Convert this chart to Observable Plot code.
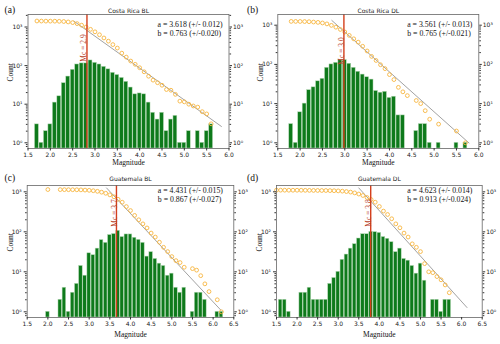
<!DOCTYPE html>
<html>
<head>
<meta charset="utf-8">
<script src="https://cdn.jsdelivr.net/npm/d3@7"></script>
<script src="https://cdn.jsdelivr.net/npm/@observablehq/plot@0.6"></script>
<style>
  html, body { margin: 0; padding: 0; background: #fff; }
  #fig { position: relative; width: 500px; height: 344px; overflow: hidden; background: #fff; }
  #fig .panel { position: absolute; width: 250px; height: 172px; }
  #fig svg { overflow: visible; }
</style>
</head>
<body>
<div id="fig"></div>
<script>
// ---------------- data ----------------
const titles = ["Costa Rica BL", "Costa Rica DL", "Guatemala BL", "Guatemala DL"];
const panelTags = ["(a)", "(b)", "(c)", "(d)"];
const mcLabels = ["Mc = 2.9", "Mc = 3.0", "Mc = 3.7", "Mc = 3.8"];
const mcValues = [2.82, 2.98, 3.66, 3.79];
const aLabels = ["a = 3.618 (+/- 0.012)", "a = 3.561 (+/- 0.013)", "a = 4.431 (+/- 0.015)", "a = 4.623 (+/- 0.014)"];
const bLabels = ["b = 0.763 (+/-0.020)", "b = 0.765 (+/-0.021)", "b = 0.867 (+/-0.027)", "b = 0.913 (+/-0.024)"];
const xTicks6 = [1.5, 2.0, 2.5, 3.0, 3.5, 4.0, 4.5, 5.0, 5.5, 6.0];
const xTicks65 = [1.5, 2.0, 2.5, 3.0, 3.5, 4.0, 4.5, 5.0, 5.5, 6.0, 6.5];
const yMajorTicks = [1, 10, 100, 1000];
const yMinorTicks = [0.8, 0.9, 2, 3, 4, 5, 6, 7, 8, 9, 20, 30, 40, 50, 60, 70, 80, 90,
  200, 300, 400, 500, 600, 700, 800, 900, 2000];

// Panel (a) Costa Rica BL
const binA = [1.7,1.8,1.9,2.0,2.1,2.2,2.3,2.4,2.5,2.6,2.7,2.8,2.9,3.0,3.1,3.2,3.3,3.4,3.5,3.6,
  3.7,3.8,3.9,4.0,4.1,4.2,4.3,4.4,4.5,4.6,4.7,4.8,4.9,5.0,5.1,5.2,5.3,5.4,5.5,5.6];
const countA = [3,1,2,3,11,16,35,52,78,107,114,114,136,118,107,93,80,65,57,48,
  38,27,18,19,18,11,6,4,6,2,4,5,1,1,2,0,2,1,2,3];
const cumMagA = [1.7,1.8,1.9,2.0,2.1,2.2,2.3,2.4,2.5,2.6,2.7,2.8,2.9,3.0,3.1,3.2,3.3,3.4,3.5,3.6,
  3.7,3.8,3.9,4.0,4.1,4.2,4.3,4.4,4.5,4.6,4.7,4.8,4.9,5.0,5.1,5.2,5.3,5.4,5.5,5.6];
const cumA = [1430,1425,1420,1418,1415,1404,1388,1353,1300,1222,1115,1000,870,750,630,520,430,350,285,210,
  166,131,108,88,69,53,42,36,31,24,23,18,12,11.5,10,9,8.4,6.4,5.6,3.1];
const fitMA = [2.53, 5.83];
const fitNA = [1410, 2.65];

// Panel (b) Costa Rica DL
const binB = [1.8,1.9,2.0,2.1,2.2,2.3,2.4,2.5,2.6,2.7,2.8,2.9,3.0,3.1,3.2,3.3,3.4,3.5,3.6,3.7,
  3.8,3.9,4.0,4.1,4.2,4.3,4.4,4.5,4.6,4.7,4.8,4.9,5.0,5.1,5.2,5.3,5.4,5.5,5.6,5.7];
const countB = [3,1,6,10,22,26,37,43,82,100,110,129,129,104,82,65,55,47,41,21,
  19,20,14,15,5,5,0,0,2,3,3,1,0,1,0,0,0,1,0,1];
const cumMagB = [1.8,1.9,2.0,2.1,2.2,2.3,2.4,2.5,2.6,2.7,2.8,2.9,3.0,3.1,3.2,3.3,3.4,3.5,3.6,3.7,
  3.8,3.9,4.0,4.1,4.2,4.3,4.4,4.6,4.7,4.8,4.9,5.1,5.5,5.7];
const cumB = [1250,1248,1245,1238,1228,1205,1180,1140,1080,990,890,780,670,550,450,370,290,220,160,126,
  98,78,55,41,26,20,16,12,10,6.6,4,3,2,1];
const fitMB = [2.71, 5.78];
const fitNB = [1320, 0.99];

// Panel (c) Guatemala BL
const binC = [2.0,2.1,2.2,2.3,2.4,2.5,2.6,2.7,2.8,2.9,3.0,3.1,3.2,3.3,3.4,3.5,3.6,3.7,3.8,3.9,
  4.0,4.1,4.2,4.3,4.4,4.5,4.6,4.7,4.8,4.9,5.0,5.1,5.2,5.3,5.4,5.5,5.6,5.7,5.8,5.9,6.0,6.1,6.2];
const countC = [1,0,0,2,4,1,3,5,14,8,29,26,38,62,53,83,88,106,74,86,
  86,71,63,53,24,31,21,16,14,8,9,4,3,4,0,1,3,3,2,0,0,1,1];
const cumMagC = [2.0,2.3,2.4,2.5,2.6,2.7,2.8,2.9,3.0,3.1,3.2,3.3,3.4,3.5,3.6,3.7,3.8,3.9,
  4.0,4.1,4.2,4.3,4.4,4.5,4.6,4.7,4.8,4.9,5.0,5.1,5.2,5.3,5.5,5.6,5.7,5.8,5.9,6.1,6.2];
const cumC = [1140,1135,1133,1130,1128,1125,1118,1105,1090,1065,1030,980,920,840,750,650,550,427,
  340,257,200,158,125,93,74,55,41,32,24,19,17,13,12,11,8,5,3.2,2,1];
const fitMC = [3.42, 6.18];
const fitNC = [1250, 1.12];

// Panel (d) Guatemala DL
const binD = [1.6,1.7,1.8,1.9,2.0,2.1,2.2,2.3,2.4,2.5,2.6,2.7,2.8,2.9,3.0,3.1,3.2,3.3,3.4,3.5,
  3.6,3.7,3.8,3.9,4.0,4.1,4.2,4.3,4.4,4.5,4.6,4.7,4.8,4.9,5.0,5.1,5.2,5.3,5.4,5.5,5.6,5.7];
const countD = [2,2,1,0,0,3,3,4,2,2,2,2,5,7,10,20,27,38,49,68,
  87,87,100,98,94,74,67,55,31,38,21,19,14,9,16,6,0,2,2,1,2,2];
const cumMagD = [1.5,1.6,1.7,1.8,1.9,2.0,2.1,2.2,2.3,2.4,2.5,2.6,2.7,2.8,2.9,3.0,3.1,3.2,3.3,3.4,
  3.5,3.6,3.7,3.8,3.9,4.0,4.1,4.2,4.3,4.4,4.5,4.6,4.7,4.8,4.9,5.0,5.1,5.2,5.3,5.4,5.5,5.6,5.7];
const cumD = [1100,1100,1098,1096,1095,1095,1094,1090,1087,1083,1081,1079,1077,1072,1065,1055,1040,1015,985,940,
  880,810,720,640,550,430,330,271,212,158,126,93,74,50,41,32,16,10,9.5,7.6,6.3,4.7,3];
const fitMD = [3.50, 6.13];
const fitND = [1250, 1.28];

// ---------------- layout / style ----------------
const layouts = [
  {left: 0,   top: 0,   mL: 27.5, mR: 21.5, mT: 14, mB: 24, yLo: -0.148, yHi: 3.324, xTicks: xTicks6,
   tagDx: -23.5, tagDy: -2, titleDy: -1.7, statDx: -71.5, statDy: 6, mcDx: -6.5, mcDy: 33.5, magDy: 16},
  {left: 250, top: 0,   mL: 27.3, mR: 21.7, mT: 14, mB: 24, yLo: -0.145, yHi: 3.273, xTicks: xTicks6,
   tagDx: -30.8, tagDy: -2, titleDy: -1.7, statDx: -71.6, statDy: 6, mcDx: -5, mcDy: 36.5, magDy: 16},
  {left: 0,   top: 172, mL: 26.7, mR: 16.7, mT: 13, mB: 27, yLo: -0.1425, yHi: 3.158, xTicks: xTicks65,
   tagDx: -22.7, tagDy: -5, titleDy: -4.7, statDx: -76, statDy: 1.5, mcDx: -5, mcDy: 27.5, magDy: 19},
  {left: 250, top: 172, mL: 26, mR: 18.3, mT: 13, mB: 27, yLo: -0.1425, yHi: 3.158, xTicks: xTicks65,
   tagDx: -29.5, tagDy: -5, titleDy: -4.7, statDx: -75, statDy: 1.5, mcDx: -5, mcDy: 27.5, magDy: 19}
];

const series = [
  {bins: binA, counts: countA, cm: cumMagA, cv: cumA, fm: fitMA, fn: fitNA},
  {bins: binB, counts: countB, cm: cumMagB, cv: cumB, fm: fitMB, fn: fitNB},
  {bins: binC, counts: countC, cm: cumMagC, cv: cumC, fm: fitMC, fn: fitNC},
  {bins: binD, counts: countD, cm: cumMagD, cv: cumD, fm: fitMD, fn: fitND}
];

const sup = {"0": "\u2070", "1": "\u00b9", "2": "\u00b2", "3": "\u00b3"};
const yFmt = d => "10" + sup[String(Math.round(Math.log10(d)))];
const SERIF = "'Liberation Serif', 'Times New Roman', serif";
const SANS = "'DejaVu Sans', sans-serif";
const BAR_FILL = "#0e7a1b";
const BAR_EDGE = "#b7dab7";
const ORANGE = "#f7b640";
const RED = "#d43f1c";
const halfW = 0.043;

const fig = document.getElementById("fig");

series.forEach((s, i) => {
  const L = layouts[i];
  const lo = Math.pow(10, L.yLo), hi = Math.pow(10, L.yHi);
  const xMax = L.xTicks[L.xTicks.length - 1];
  const bars = s.bins.map((m, k) => ({m, n: s.counts[k]})).filter(d => d.n > 0);
  const cum = s.cm.map((m, k) => ({m, n: s.cv[k]}));
  const fit = s.fm.map((m, k) => ({m, n: s.fn[k]}));
  const minor = yMinorTicks.filter(t => t >= lo && t <= hi);

  const chart = Plot.plot({
    width: 250,
    height: 172,
    marginLeft: L.mL,
    marginRight: L.mR,
    marginTop: L.mT,
    marginBottom: L.mB,
    x: {domain: [1.5, xMax]},
    y: {type: "log", domain: [lo, hi]},
    style: {background: "transparent", overflow: "visible", fontFamily: SANS, fontSize: "6px", color: "#222"},
    marks: [
      Plot.rect(bars, {x1: d => d.m - halfW, x2: d => d.m + halfW, y1: d => lo, y2: "n",
        fill: BAR_FILL, stroke: BAR_EDGE, strokeWidth: 0.5}),
      Plot.line(fit, {x: "m", y: "n", stroke: "#8a8a8a", strokeWidth: 0.8}),
      Plot.dot(cum, {x: "m", y: "n", r: 1.9, stroke: ORANGE, strokeWidth: 0.9, fill: "none"}),
      Plot.ruleX([mcValues[i]], {stroke: RED, strokeWidth: 1.4}),
      Plot.frame({stroke: "#666", strokeWidth: 0.8}),
      Plot.axisX(L.xTicks, {anchor: "bottom", tickSize: 2.5, tickPadding: 1.5, label: null,
        tickFormat: d => d.toFixed(1), fontSize: 6, stroke: "#333"}),
      Plot.axisY(yMajorTicks, {anchor: "left", tickSize: 3, tickPadding: 2.5, label: null,
        tickFormat: yFmt, fontSize: 6, stroke: "#333"}),
      Plot.axisY(minor, {anchor: "left", tickSize: 1.6, label: null, tickFormat: () => "", stroke: "#333"}),
      Plot.axisY(yMajorTicks, {anchor: "right", tickSize: 2.5, tickPadding: 1.5, label: null,
        tickFormat: yFmt, fontSize: 6, stroke: "#333"}),
      Plot.axisY(minor, {anchor: "right", tickSize: 1.6, label: null, tickFormat: () => "", stroke: "#333"}),
      Plot.text([titles[i]], {frameAnchor: "top", lineAnchor: "bottom", dy: L.titleDy,
        fontFamily: SANS, fontSize: 6, fill: "#222"}),
      Plot.text([panelTags[i]], {frameAnchor: "top-left", textAnchor: "start", lineAnchor: "bottom",
        dx: L.tagDx, dy: L.tagDy, fontFamily: SERIF, fontSize: 9.5, fill: "#111"}),
      Plot.text([aLabels[i] + "\n" + bLabels[i]], {frameAnchor: "top-right", textAnchor: "start",
        lineAnchor: "top", dx: L.statDx, dy: L.statDy, lineHeight: 1.15,
        fontFamily: SERIF, fontSize: 7.8, fill: "#111"}),
      Plot.text([mcLabels[i]], {x: () => mcValues[i], frameAnchor: "top", rotate: -90,
        dx: L.mcDx, dy: L.mcDy, fontFamily: SERIF, fontSize: 7.5, fill: "#b8432a"}),
      Plot.text(["Count"], {frameAnchor: "left", rotate: -90, dx: -17,
        fontFamily: SERIF, fontSize: 7.5, fill: "#111"}),
      Plot.text(["Magnitude"], {frameAnchor: "bottom", lineAnchor: "bottom", dy: L.magDy,
        fontFamily: SERIF, fontSize: 7.5, fill: "#111"})
    ]
  });

  const holder = document.createElement("div");
  holder.className = "panel";
  holder.style.left = L.left + "px";
  holder.style.top = L.top + "px";
  holder.appendChild(chart);
  fig.appendChild(holder);
});
</script>
</body>
</html>
